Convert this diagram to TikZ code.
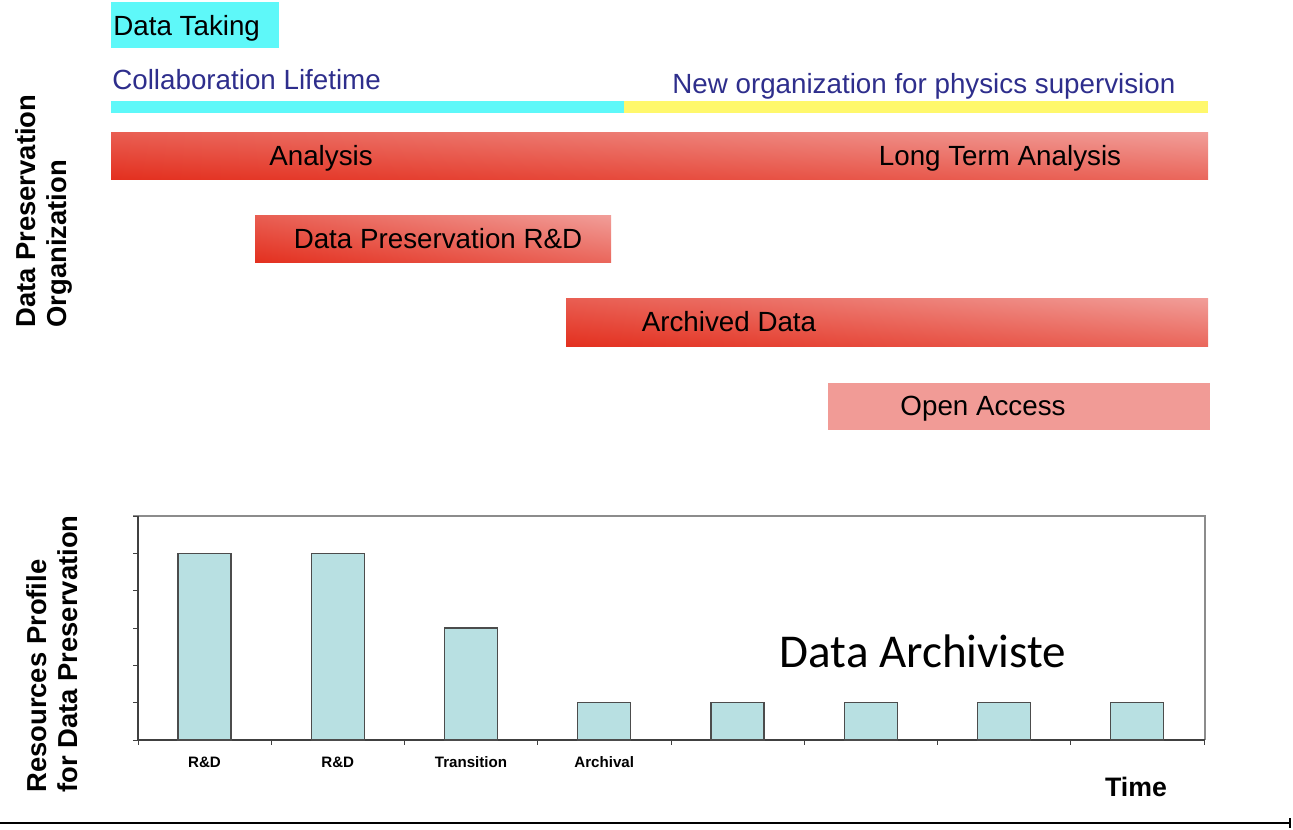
\documentclass[tikz,border=0pt]{standalone}
\usepackage{fontspec}
\setmainfont{Liberation Sans}
\newfontfamily\archfont{Carlito}
\usetikzlibrary{shadings}
\definecolor{takecyan}{HTML}{5EF8F9}
\definecolor{superyellow}{HTML}{FFF86C}
\definecolor{lifeblue}{HTML}{2E2E8C}
\definecolor{phasered}{HTML}{E3301F}
\definecolor{phasepink}{HTML}{F19E99}
\definecolor{openpink}{HTML}{F19B96}
\definecolor{resteal}{HTML}{B8E0E2}
\definecolor{framegray}{HTML}{8C8C8C}
\tikzset{
  phase/.style={lower left=phasered, upper left=phasered!58!phasepink,
    lower right=phasered!50!phasepink, upper right=phasepink},
  big/.style={font=\fontsize{15.8}{18}\selectfont, inner sep=0pt, anchor=base},
  side/.style={font=\bfseries\fontsize{15.6}{17.6}\selectfont, inner sep=0pt,
    rotate=90, anchor=north west, align=left},
  resbar/.style={draw=black!70, fill=resteal, line width=0.8pt},
  cat/.style={font=\bfseries\fontsize{8.6}{10}\selectfont, inner sep=0pt, anchor=base}
}
\begin{document}
\begin{tikzpicture}[x=0.02cm, y=-0.02cm]
  \useasboundingbox (0,0) rectangle (1293,829);
  % organisation
  \fill[takecyan] (111,2) rectangle (279,48);
  \node[big, anchor=base west] (taking) at (113,35) {Data Taking};
  \node[big, anchor=base west, text=lifeblue] (life) at (112,89) {Collaboration Lifetime};
  \node[big, anchor=base west, text=lifeblue] (neworg) at (672,93) {New organization for physics supervision};
  \fill[takecyan] (111,101) rectangle (624,113);
  \fill[superyellow] (624,101) rectangle (1208,113);
  \shade[phase] (111,132) rectangle (1208,179);
  \node[big] (ana) at (321,165) {Analysis};
  \node[big] (lta) at (1000,165) {Long Term Analysis};
  \shade[phase] (255,215) rectangle (611,262);
  \node[big] (dprd) at (438,248) {Data Preservation R\&D};
  \shade[phase] (566,298) rectangle (1208,346);
  \node[big] (arch) at (729,331) {Archived Data};
  \fill[openpink] (828,383) rectangle (1210,430);
  \node[big] (open) at (983,415) {Open Access};
  \node[side] (orglab) at (15,328) {Data Preservation\\Organization};
  % resources
  \draw[framegray, line width=0.8pt] (133,516) -- (1205,516) -- (1205,740);
  \draw[black!75, line width=0.9pt] (138,516) -- (138,740) -- (1205,740);
  \foreach \k in {0,...,6}
    \draw[black!75] (133,516+37.33*\k) -- (138,516+37.33*\k);
  \foreach \k in {0,...,8}
    \draw[black!75] (138+133.25*\k,740) -- (138+133.25*\k,745);
  \foreach \h [count=\i from 0] in {5,5,3,1,1,1,1,1}
    \draw[resbar] (178+133.25*\i,740) rectangle ++(53,-37.33*\h);
  \foreach \t [count=\i from 0] in {R\&D,R\&D,Transition,Archival}
    \node[cat] (cat\i) at (204.5+133.25*\i,767) {\t};
  \node[side] (reslab) at (26,793) {Resources Profile\\for Data Preservation};
  \node[inner sep=0pt, anchor=base, font=\archfont\fontsize{26.8}{30}\selectfont] (archiviste) at (923,667) {Data Archiviste};
  \node[big, font=\bfseries\fontsize{15.2}{18}\selectfont] (time) at (1136,796) {Time};
  \coordinate (tstart) at (0,823);
  \coordinate (tend) at (1290,823);
  \draw[line width=1.1pt] (tstart) -- (tend);
  \draw[line width=1.1pt] (1290,818) -- (1290,828);
\end{tikzpicture}
\end{document}
